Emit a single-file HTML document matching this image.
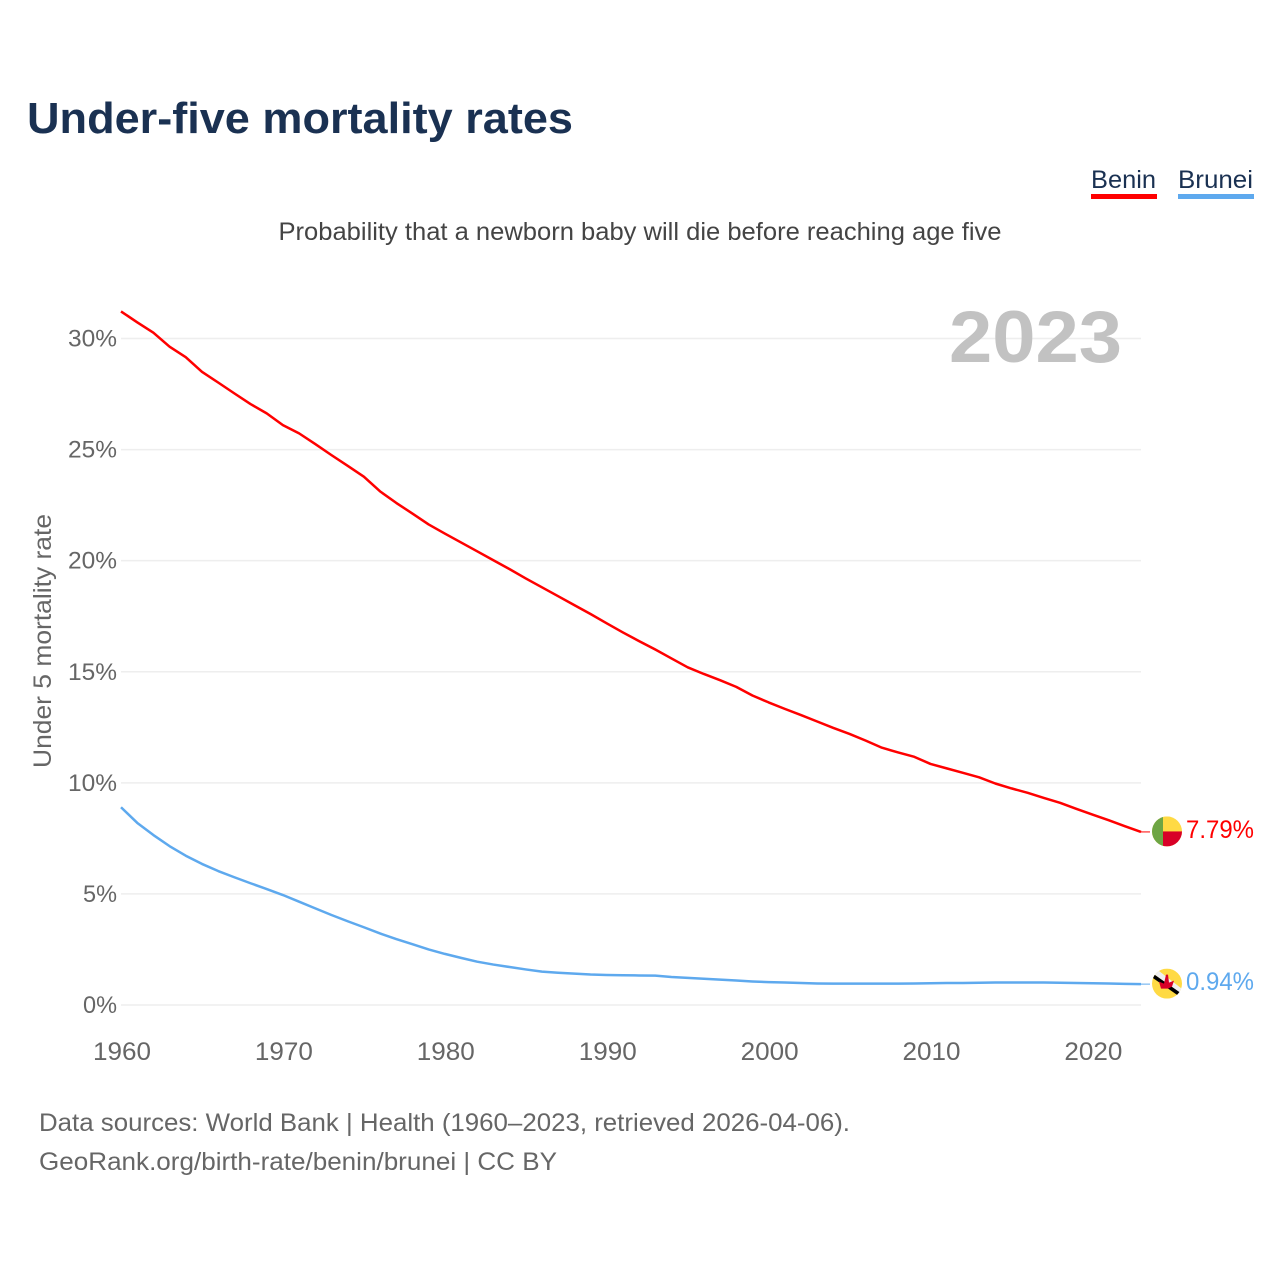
<!DOCTYPE html>
<html>
<head>
<meta charset="utf-8">
<title>Under-five mortality rates</title>
<style>
html,body{margin:0;padding:0;background:#fff;width:1280px;height:1280px;overflow:hidden}
svg{display:block}
text{font-family:"Liberation Sans",sans-serif}
</style>
</head>
<body>
<svg id="chart" width="1280" height="1280" viewBox="0 0 1280 1280">
  <rect width="1280" height="1280" fill="#fff"/>
  <text x="27" y="133" font-size="44" font-weight="700" fill="#1a3152" textLength="546" lengthAdjust="spacingAndGlyphs">Under-five mortality rates</text>
  <g>
    <text x="1091" y="188" font-size="25" fill="#1a3152" textLength="65" lengthAdjust="spacingAndGlyphs">Benin</text>
    <rect x="1091" y="194" width="66" height="5" fill="#ff0000"/>
  </g>
  <g>
    <text x="1178" y="188" font-size="25" fill="#1a3152" textLength="75" lengthAdjust="spacingAndGlyphs">Brunei</text>
    <rect x="1178" y="194" width="76" height="5" fill="#5ea9ee"/>
  </g>
  <text x="278.500" y="240" font-size="25" fill="#444" textLength="723" lengthAdjust="spacingAndGlyphs">Probability that a newborn baby will die before reaching age five</text>
  <g id="grid"></g>
  <g id="yticks"></g>
  <g id="xticks"></g>
  <text transform="translate(51,641) rotate(-90)" text-anchor="middle" font-size="25" fill="#666" textLength="254" lengthAdjust="spacingAndGlyphs">Under 5 mortality rate</text>
  <text x="1122" y="362" text-anchor="end" font-size="73" font-weight="700" fill="#c2c2c2" textLength="173" lengthAdjust="spacingAndGlyphs">2023</text>
  <path id="line-benin" fill="none" stroke="#ff0000" stroke-width="2.500" stroke-linejoin="round"/>
  <path id="line-brunei" fill="none" stroke="#5ea9ee" stroke-width="2.500" stroke-linejoin="round"/>
  <line id="lead-benin" stroke="#ff0000" stroke-width="1"/>
  <line id="lead-brunei" stroke="#5ea9ee" stroke-width="1"/>
  <g id="flag-benin">
    <clipPath id="clip-benin"><circle cx="0" cy="0" r="15"/></clipPath>
    <g clip-path="url(#clip-benin)">
      <rect x="-15" y="-15" width="30" height="30" fill="#ffda44"/>
      <rect x="-4" y="0" width="19" height="15" fill="#d80027"/>
      <rect x="-15" y="-15" width="11" height="30" fill="#6da544"/>
    </g>
  </g>
  <g id="flag-brunei">
    <clipPath id="clip-brunei"><circle cx="0" cy="0" r="15"/></clipPath>
    <g clip-path="url(#clip-brunei)">
      <rect x="-15" y="-15" width="30" height="30" fill="#ffda44"/>
      <polygon points="-15,-11 -11,-15 16,6 13,10" fill="#f0f0f0"/>
      <polygon points="-16,-7 -14,-10 16,11 14,14" fill="#000"/>
      <polygon points="-1,-9 1,-9 2,-1 7,-3 5,3 1,5 -6,5 -8,-2 -3,0" fill="#d80027"/>
    </g>
  </g>
  <text id="value-benin" x="1186" y="837" font-size="25" fill="#ff0000" textLength="68" lengthAdjust="spacingAndGlyphs"></text>
  <text id="value-brunei" x="1186" y="990" font-size="25" fill="#5ea9ee" textLength="68" lengthAdjust="spacingAndGlyphs"></text>
  <text x="39" y="1131" font-size="25" fill="#666" textLength="811" lengthAdjust="spacingAndGlyphs">Data sources: World Bank | Health (1960–2023, retrieved 2026-04-06).</text>
  <text x="39" y="1170" font-size="25" fill="#666" textLength="518" lengthAdjust="spacingAndGlyphs">GeoRank.org/birth-rate/benin/brunei | CC BY</text>
</svg>
<script>
const years = [1960,1961,1962,1963,1964,1965,1966,1967,1968,1969,1970,1971,1972,1973,1974,1975,1976,1977,1978,1979,1980,1981,1982,1983,1984,1985,1986,1987,1988,1989,1990,1991,1992,1993,1994,1995,1996,1997,1998,1999,2000,2001,2002,2003,2004,2005,2006,2007,2008,2009,2010,2011,2012,2013,2014,2015,2016,2017,2018,2019,2020,2021,2022,2023];
const beninValues = [31.22,30.73,30.26,29.63,29.16,28.5,28.02,27.53,27.05,26.63,26.1,25.73,25.25,24.75,24.27,23.78,23.12,22.6,22.12,21.63,21.22,20.82,20.42,20.02,19.62,19.2,18.8,18.4,18.0,17.6,17.18,16.77,16.38,16.0,15.6,15.2,14.9,14.62,14.32,13.93,13.62,13.33,13.05,12.76,12.47,12.2,11.9,11.58,11.37,11.17,10.85,10.65,10.45,10.25,9.97,9.75,9.55,9.32,9.1,8.83,8.57,8.32,8.05,7.79];
const bruneiValues = [8.9,8.2,7.65,7.15,6.72,6.35,6.03,5.75,5.48,5.22,4.95,4.65,4.35,4.05,3.77,3.5,3.22,2.97,2.74,2.5,2.3,2.12,1.95,1.82,1.71,1.6,1.5,1.45,1.41,1.37,1.35,1.34,1.33,1.32,1.26,1.22,1.18,1.14,1.1,1.06,1.03,1.01,0.99,0.97,0.96,0.96,0.96,0.96,0.96,0.97,0.98,0.99,0.99,1.0,1.01,1.01,1.01,1.01,1.0,0.99,0.98,0.97,0.95,0.94];
const yTicks = [0,5,10,15,20,25,30];
const xTicks = [1960,1970,1980,1990,2000,2010,2020];
const latestBenin = "7.79%";
const latestBrunei = "0.94%";

const NS = "http://www.w3.org/2000/svg";
const x = yr => 121 + (yr - 1960) * (1141 - 121) / (2023 - 1960);
const y = v => 1005 - v * (1005 - 338.5) / 30;
const pathFrom = vals => vals.map((v, i) => (i ? "L" : "M") + x(years[i]).toFixed(2) + " " + y(v).toFixed(2)).join(" ");

const gridGroup = document.getElementById("grid");
const yGroup = document.getElementById("yticks");
const xGroup = document.getElementById("xticks");

yTicks.forEach(t => {
  const gl = document.createElementNS(NS, "line");
  gl.setAttribute("x1", 121);
  gl.setAttribute("x2", 1141);
  gl.setAttribute("y1", y(t));
  gl.setAttribute("y2", y(t));
  gl.setAttribute("stroke", "#eeeeee");
  gl.setAttribute("stroke-width", "1.500");
  
  
  gridGroup.appendChild(gl);

  const tx = document.createElementNS(NS, "text");
  tx.setAttribute("x", 117);
  tx.setAttribute("y", y(t) + 8);
  tx.setAttribute("text-anchor", "end");
  tx.setAttribute("font-size", "24");
  tx.setAttribute("fill", "#666");
  tx.setAttribute("textLength", t >= 10 ? 49 : 34);
  tx.setAttribute("lengthAdjust", "spacingAndGlyphs");
  tx.textContent = t + "%";
  
  
  yGroup.appendChild(tx);
});

xTicks.forEach(t => {
  const tx = document.createElementNS(NS, "text");
  tx.setAttribute("x", x(t) + 1);
  tx.setAttribute("y", 1060);
  tx.setAttribute("text-anchor", "middle");
  tx.setAttribute("font-size", "25");
  tx.setAttribute("fill", "#666");
  tx.setAttribute("textLength", 58);
  tx.setAttribute("lengthAdjust", "spacingAndGlyphs");
  tx.textContent = t;
  
  
  xGroup.appendChild(tx);
});

document.getElementById("line-benin").setAttribute("d", pathFrom(beninValues));
document.getElementById("line-brunei").setAttribute("d", pathFrom(bruneiValues));

function placeEnd(name, vals, label) {
  const ey = y(vals[vals.length - 1]);
  const lead = document.getElementById("lead-" + name);
  lead.setAttribute("x1", 1141);
  lead.setAttribute("x2", 1150);
  lead.setAttribute("y1", ey);
  lead.setAttribute("y2", ey);
  document.getElementById("flag-" + name).setAttribute("transform", "translate(1167," + (ey - 0.5) + ")");
  const t = document.getElementById("value-" + name);
  t.textContent = label;
  t.setAttribute("y", ey + 6);
}
placeEnd("benin", beninValues, latestBenin);
placeEnd("brunei", bruneiValues, latestBrunei);
</script>
</body>
</html>
